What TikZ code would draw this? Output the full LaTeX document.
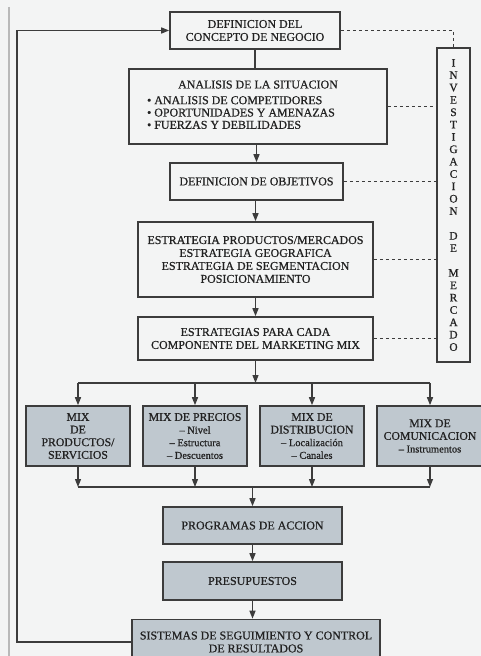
\documentclass[tikz,border=0pt]{standalone}
\usepackage{fontspec}
\setmainfont{Liberation Serif}[FakeBold=0.7]
\usetikzlibrary{arrows.meta}
\definecolor{bg}{HTML}{F3F4F4}
\definecolor{ink}{HTML}{222222}
\definecolor{edge}{HTML}{3C3C3C}
\definecolor{shade}{HTML}{BFC8CF}
\newcommand{\mixsub}[1]{{\fontsize{10.5}{12.7}\selectfont #1}}
\begin{document}
\begin{tikzpicture}[x=1bp,y=-1bp,
  box/.style={draw=edge,line width=1.6bp,fill=bg,text=ink,align=center,inner sep=2bp,font=\fontsize{12}{13}\selectfont},
  shbox/.style={box,fill=shade},
  mixbox/.style={shbox,minimum width=104bp,minimum height=60bp,font=\fontsize{11.8}{12.7}\selectfont},
  conn/.style={draw=edge,line width=1.3bp,-{Triangle[length=8bp,width=6bp]}},
  plain/.style={draw=edge,line width=1.3bp},
  dsh/.style={draw=edge,line width=1.2bp,dash pattern=on 3.5bp off 2.5bp}]
\useasboundingbox (0,0) rectangle (481,656);
\fill[bg] (0,0) rectangle (481,656);
\draw[gray!55,line width=1.2bp] (9,7) -- (9,656);

\node[box,minimum width=170bp,minimum height=37bp] (n1) at (255,30.5) {DEFINICION DEL\\CONCEPTO DE NEGOCIO};
\node[box,minimum width=258bp,minimum height=75bp] (n2) at (258,106.5) {ANALISIS DE LA SITUACION\\[6bp]\def\arraystretch{0.95}\begin{tabular}{@{}l@{}}• ANALISIS DE COMPETIDORES\\• OPORTUNIDADES Y AMENAZAS\\• FUERZAS Y DEBILIDADES\end{tabular}\hspace*{34bp}};
\node[box,minimum width=173bp,minimum height=37bp] (n3) at (256.5,181.5) {DEFINICION DE OBJETIVOS};
\node[box,minimum width=235bp,minimum height=75bp] (n4) at (255.5,259.5) {ESTRATEGIA PRODUCTOS/MERCADOS\\ESTRATEGIA GEOGRAFICA\\ESTRATEGIA DE SEGMENTACION\\POSICIONAMIENTO};
\node[box,minimum width=235bp,minimum height=43bp] (n5) at (255.5,338.5) {ESTRATEGIAS PARA CADA\\COMPONENTE DEL MARKETING MIX};
\node[box,minimum width=33bp,minimum height=314bp,font=\fontsize{11.5}{12.4}\selectfont] (inv) at (453.5,205) {I\\N\\V\\E\\S\\T\\I\\G\\A\\C\\I\\O\\N\\[12.4bp]D\\E\\[12.4bp]M\\E\\R\\C\\A\\D\\O};

\node[mixbox] (mA) at (78,436) {MIX\\DE\\PRODUCTOS/\\SERVICIOS};
\node[mixbox] (mB) at (195,436) {MIX DE PRECIOS\\\mixsub{– Nivel}\\\mixsub{– Estructura}\\\mixsub{– Descuentos}};
\node[mixbox] (mC) at (312,436) {MIX DE\\DISTRIBUCION\\\mixsub{– Localización}\\\mixsub{– Canales}};
\node[mixbox,minimum width=106bp] (mD) at (430,436) {MIX DE\\COMUNICACION\\\mixsub{– Instrumentos}};

\node[shbox,minimum width=179bp,minimum height=37bp] (prog) at (252.5,525.5) {PROGRAMAS DE ACCION};
\node[shbox,minimum width=179bp,minimum height=38bp] (pres) at (252.5,581) {PRESUPUESTOS};
\node[shbox,minimum width=248bp,minimum height=45bp] (sist) at (256,642) {SISTEMAS DE SEGUIMIENTO Y CONTROL\\DE RESULTADOS};

% main flow
\draw[plain] (n1.south) -- (n1.south |- n2.north);
\draw[conn] (n3.north |- n2.south) -- (n3.north);
\draw[conn] (n4.north |- n3.south) -- (n4.north);
\draw[conn] (n4.south) -- (n5.north);
\coordinate (b1) at (255.5,383);
\draw[conn] (n5.south) -- (b1);
\draw[plain] (mA.north |- b1) -- (mD.north |- b1);
\foreach \m in {mA,mB,mC,mD} \draw[conn] (\m.north |- b1) -- (\m.north);
\coordinate (b2) at (252.5,487);
\foreach \m in {mA,mB,mC,mD} \draw[conn] (\m.south) -- (\m.south |- b2);
\draw[plain] (mA.south |- b2) -- (mD.south |- b2);
\draw[conn] (b2) -- (prog.north);
\draw[conn] (prog.south) -- (pres.north);
\draw[conn] (pres.south) -- (pres.south |- sist.north);

% feedback
\coordinate (fb) at (17,30.5);
\draw[conn] (sist.west) -| (fb) -- (n1.west);

% research links
\draw[dsh] (n1.east) -| (inv.north);
\foreach \n in {n2,n3,n4,n5} \draw[dsh] (\n.east) -- (\n.east -| inv.west);
\end{tikzpicture}
\end{document}
